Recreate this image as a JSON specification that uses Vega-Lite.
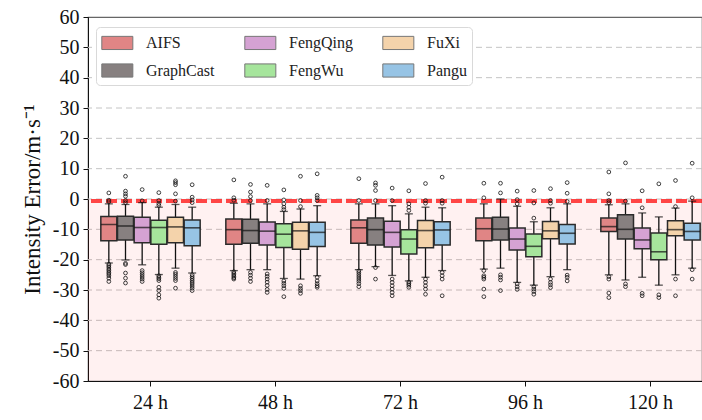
{
  "$schema": "https://vega.github.io/schema/vega-lite/v6.json",
  "autosize": {"type": "none"},
  "padding": {"left": 88, "top": 17, "right": 0, "bottom": 39},
  "width": 614,
  "height": 364,
  "background": "white",
  "config": {
    "font": "Liberation Serif",
    "view": {"stroke": "#666", "strokeWidth": 1.2},
    "axis": {"labelFont": "Liberation Serif", "titleFont": "Liberation Serif", "labelColor": "#111", "titleColor": "#111", "domainColor": "#111", "tickColor": "#111", "titleFontWeight": "normal"},
    "axisY": {"labelOverlap": false, "grid": false, "tickSize": 5, "labelFontSize": 20, "labelPadding": 4, "titleFontSize": 23, "titlePadding": 8},
    "legend": {"labelFont": "Liberation Serif"}
  },
  "resolve": {"scale": {"y": "independent"}},
  "datasets": {
    "grid": [{"g": -50}, {"g": -40}, {"g": -30}, {"g": -20}, {"g": -10}, {"g": 0}, {"g": 10}, {"g": 20}, {"g": 30}, {"g": 40}, {"g": 50}],
    "boxes": [
      {"lead":"24 h","model":"AIFS","lo":-21.1,"q1":-13.8,"med":-8.4,"q3":-5.8,"hi":-1.6},
      {"lead":"24 h","model":"GraphCast","lo":-20.1,"q1":-13.5,"med":-8.9,"q3":-5.7,"hi":-1.8},
      {"lead":"24 h","model":"FengQing","lo":-21.7,"q1":-14.4,"med":-9.4,"q3":-6.0,"hi":-1.2},
      {"lead":"24 h","model":"FengWu","lo":-24.9,"q1":-14.9,"med":-9.4,"q3":-7.0,"hi":-2.7},
      {"lead":"24 h","model":"FuXi","lo":-22.8,"q1":-14.4,"med":-9.2,"q3":-6.0,"hi":-1.8},
      {"lead":"24 h","model":"Pangu","lo":-24.4,"q1":-15.4,"med":-9.5,"q3":-6.9,"hi":-2.7},
      {"lead":"48 h","model":"AIFS","lo":-23.6,"q1":-14.9,"med":-10.1,"q3":-6.6,"hi":-1.4},
      {"lead":"48 h","model":"GraphCast","lo":-23.3,"q1":-14.6,"med":-10.4,"q3":-6.7,"hi":-1.6},
      {"lead":"48 h","model":"FengQing","lo":-23.3,"q1":-15.2,"med":-10.6,"q3":-7.6,"hi":-1.6},
      {"lead":"48 h","model":"FengWu","lo":-26.2,"q1":-16.0,"med":-11.6,"q3":-8.2,"hi":-4.1},
      {"lead":"48 h","model":"FuXi","lo":-26.4,"q1":-16.6,"med":-10.5,"q3":-7.7,"hi":-3.3},
      {"lead":"48 h","model":"Pangu","lo":-25.3,"q1":-15.7,"med":-11.0,"q3":-7.7,"hi":-2.2},
      {"lead":"72 h","model":"AIFS","lo":-23.3,"q1":-14.6,"med":-9.5,"q3":-6.9,"hi":-1.6},
      {"lead":"72 h","model":"GraphCast","lo":-22.3,"q1":-15.2,"med":-10.1,"q3":-6.3,"hi":-1.6},
      {"lead":"72 h","model":"FengQing","lo":-25.2,"q1":-15.8,"med":-11.0,"q3":-7.3,"hi":-2.2},
      {"lead":"72 h","model":"FengWu","lo":-27.0,"q1":-18.1,"med":-13.2,"q3":-10.1,"hi":-4.9},
      {"lead":"72 h","model":"FuXi","lo":-25.8,"q1":-16.1,"med":-10.4,"q3":-7.1,"hi":-2.7},
      {"lead":"72 h","model":"Pangu","lo":-23.6,"q1":-15.2,"med":-10.2,"q3":-7.5,"hi":-2.9},
      {"lead":"96 h","model":"AIFS","lo":-23.1,"q1":-13.8,"med":-9.8,"q3":-6.3,"hi":-1.6},
      {"lead":"96 h","model":"GraphCast","lo":-22.8,"q1":-13.5,"med":-9.9,"q3":-6.0,"hi":0.0},
      {"lead":"96 h","model":"FengQing","lo":-27.5,"q1":-16.8,"med":-13.2,"q3":-9.6,"hi":-2.4},
      {"lead":"96 h","model":"FengWu","lo":-28.4,"q1":-19.0,"med":-15.6,"q3":-11.5,"hi":-7.5},
      {"lead":"96 h","model":"FuXi","lo":-25.6,"q1":-13.1,"med":-10.5,"q3":-7.4,"hi":-2.9},
      {"lead":"96 h","model":"Pangu","lo":-23.3,"q1":-14.8,"med":-11.3,"q3":-8.4,"hi":-1.6},
      {"lead":"120 h","model":"AIFS","lo":-25.0,"q1":-10.7,"med":-9.1,"q3":-6.3,"hi":-1.9},
      {"lead":"120 h","model":"GraphCast","lo":-26.7,"q1":-13.2,"med":-10.0,"q3":-5.2,"hi":-1.6},
      {"lead":"120 h","model":"FengQing","lo":-25.8,"q1":-16.4,"med":-13.5,"q3":-9.6,"hi":-4.6},
      {"lead":"120 h","model":"FengWu","lo":-28.4,"q1":-20.0,"med":-17.4,"q3":-11.2,"hi":-5.9},
      {"lead":"120 h","model":"FuXi","lo":-25.0,"q1":-12.1,"med":-10.1,"q3":-7.2,"hi":-3.0},
      {"lead":"120 h","model":"Pangu","lo":-22.8,"q1":-13.5,"med":-10.7,"q3":-8.0,"hi":-0.7}
    ],
    "outliers": [
      {"lead":"24 h","model":"AIFS","v":2.0},{"lead":"24 h","model":"AIFS","v":-0.4},{"lead":"24 h","model":"AIFS","v":-0.9},
      {"lead":"24 h","model":"AIFS","v":-21.5},{"lead":"24 h","model":"AIFS","v":-22.0},{"lead":"24 h","model":"AIFS","v":-22.5},{"lead":"24 h","model":"AIFS","v":-23.1},{"lead":"24 h","model":"AIFS","v":-23.6},{"lead":"24 h","model":"AIFS","v":-24.2},{"lead":"24 h","model":"AIFS","v":-24.7},{"lead":"24 h","model":"AIFS","v":-25.3},{"lead":"24 h","model":"AIFS","v":-26.1},{"lead":"24 h","model":"AIFS","v":-27.2},
      {"lead":"24 h","model":"GraphCast","v":7.5},{"lead":"24 h","model":"GraphCast","v":2.6},{"lead":"24 h","model":"GraphCast","v":1.7},{"lead":"24 h","model":"GraphCast","v":0.9},{"lead":"24 h","model":"GraphCast","v":-0.5},{"lead":"24 h","model":"GraphCast","v":-1.2},
      {"lead":"24 h","model":"GraphCast","v":-21.2},{"lead":"24 h","model":"GraphCast","v":-21.6},{"lead":"24 h","model":"GraphCast","v":-24.4},{"lead":"24 h","model":"GraphCast","v":-26.1},{"lead":"24 h","model":"GraphCast","v":-27.7},
      {"lead":"24 h","model":"FengQing","v":3.1},{"lead":"24 h","model":"FengQing","v":-0.6},
      {"lead":"24 h","model":"FengQing","v":-23.6},{"lead":"24 h","model":"FengQing","v":-24.3},{"lead":"24 h","model":"FengQing","v":-25.0},{"lead":"24 h","model":"FengQing","v":-25.7},{"lead":"24 h","model":"FengQing","v":-26.4},{"lead":"24 h","model":"FengQing","v":-27.2},
      {"lead":"24 h","model":"FengWu","v":2.1},{"lead":"24 h","model":"FengWu","v":-0.5},{"lead":"24 h","model":"FengWu","v":-1.5},{"lead":"24 h","model":"FengWu","v":-2.1},
      {"lead":"24 h","model":"FengWu","v":-25.3},{"lead":"24 h","model":"FengWu","v":-25.8},{"lead":"24 h","model":"FengWu","v":-26.3},{"lead":"24 h","model":"FengWu","v":-26.9},{"lead":"24 h","model":"FengWu","v":-29.1},{"lead":"24 h","model":"FengWu","v":-30.2},{"lead":"24 h","model":"FengWu","v":-31.6},{"lead":"24 h","model":"FengWu","v":-32.7},
      {"lead":"24 h","model":"FuXi","v":6.0},{"lead":"24 h","model":"FuXi","v":5.4},{"lead":"24 h","model":"FuXi","v":4.7},{"lead":"24 h","model":"FuXi","v":1.7},{"lead":"24 h","model":"FuXi","v":-0.7},
      {"lead":"24 h","model":"FuXi","v":-24.2},{"lead":"24 h","model":"FuXi","v":-24.8},{"lead":"24 h","model":"FuXi","v":-25.5},{"lead":"24 h","model":"FuXi","v":-26.2},{"lead":"24 h","model":"FuXi","v":-26.9},{"lead":"24 h","model":"FuXi","v":-29.4},
      {"lead":"24 h","model":"Pangu","v":4.7},{"lead":"24 h","model":"Pangu","v":0.6},{"lead":"24 h","model":"Pangu","v":-0.3},{"lead":"24 h","model":"Pangu","v":-1.2},
      {"lead":"24 h","model":"Pangu","v":-25.0},{"lead":"24 h","model":"Pangu","v":-25.6},{"lead":"24 h","model":"Pangu","v":-26.2},{"lead":"24 h","model":"Pangu","v":-26.8},{"lead":"24 h","model":"Pangu","v":-27.4},{"lead":"24 h","model":"Pangu","v":-28.0},{"lead":"24 h","model":"Pangu","v":-28.7},{"lead":"24 h","model":"Pangu","v":-29.4},{"lead":"24 h","model":"Pangu","v":-30.2},
      {"lead":"48 h","model":"AIFS","v":6.3},{"lead":"48 h","model":"AIFS","v":0.4},{"lead":"48 h","model":"AIFS","v":-0.4},
      {"lead":"48 h","model":"AIFS","v":-24.0},{"lead":"48 h","model":"AIFS","v":-24.5},{"lead":"48 h","model":"AIFS","v":-25.0},{"lead":"48 h","model":"AIFS","v":-25.5},{"lead":"48 h","model":"AIFS","v":-26.0},{"lead":"48 h","model":"AIFS","v":-26.4},
      {"lead":"48 h","model":"GraphCast","v":4.8},{"lead":"48 h","model":"GraphCast","v":2.3},{"lead":"48 h","model":"GraphCast","v":0.8},{"lead":"48 h","model":"GraphCast","v":-0.5},
      {"lead":"48 h","model":"GraphCast","v":-24.2},{"lead":"48 h","model":"GraphCast","v":-25.1},{"lead":"48 h","model":"GraphCast","v":-26.1},{"lead":"48 h","model":"GraphCast","v":-27.2},
      {"lead":"48 h","model":"FengQing","v":4.5},{"lead":"48 h","model":"FengQing","v":-0.5},
      {"lead":"48 h","model":"FengQing","v":-24.7},{"lead":"48 h","model":"FengQing","v":-25.5},{"lead":"48 h","model":"FengQing","v":-26.4},{"lead":"48 h","model":"FengQing","v":-27.4},{"lead":"48 h","model":"FengQing","v":-28.5},{"lead":"48 h","model":"FengQing","v":-29.8},{"lead":"48 h","model":"FengQing","v":-30.8},
      {"lead":"48 h","model":"FengWu","v":3.0},{"lead":"48 h","model":"FengWu","v":-0.3},{"lead":"48 h","model":"FengWu","v":-1.6},{"lead":"48 h","model":"FengWu","v":-2.7},{"lead":"48 h","model":"FengWu","v":-3.5},
      {"lead":"48 h","model":"FengWu","v":-27.0},{"lead":"48 h","model":"FengWu","v":-27.8},{"lead":"48 h","model":"FengWu","v":-28.6},{"lead":"48 h","model":"FengWu","v":-29.5},{"lead":"48 h","model":"FengWu","v":-32.2},
      {"lead":"48 h","model":"FuXi","v":7.5},{"lead":"48 h","model":"FuXi","v":-0.5},{"lead":"48 h","model":"FuXi","v":-2.5},
      {"lead":"48 h","model":"FuXi","v":-28.6},{"lead":"48 h","model":"FuXi","v":-29.5},{"lead":"48 h","model":"FuXi","v":-30.2},{"lead":"48 h","model":"FuXi","v":-31.1},
      {"lead":"48 h","model":"Pangu","v":8.3},{"lead":"48 h","model":"Pangu","v":1.2},{"lead":"48 h","model":"Pangu","v":0.4},{"lead":"48 h","model":"Pangu","v":-0.5},
      {"lead":"48 h","model":"Pangu","v":-25.8},{"lead":"48 h","model":"Pangu","v":-27.0},{"lead":"48 h","model":"Pangu","v":-27.9},{"lead":"48 h","model":"Pangu","v":-28.6},{"lead":"48 h","model":"Pangu","v":-29.1},
      {"lead":"72 h","model":"AIFS","v":6.7},{"lead":"72 h","model":"AIFS","v":-0.5},
      {"lead":"72 h","model":"AIFS","v":-23.7},{"lead":"72 h","model":"AIFS","v":-24.3},{"lead":"72 h","model":"AIFS","v":-25.0},{"lead":"72 h","model":"AIFS","v":-25.7},{"lead":"72 h","model":"AIFS","v":-26.4},{"lead":"72 h","model":"AIFS","v":-27.1},{"lead":"72 h","model":"AIFS","v":-27.9},{"lead":"72 h","model":"AIFS","v":-28.9},
      {"lead":"72 h","model":"GraphCast","v":5.3},{"lead":"72 h","model":"GraphCast","v":4.5},{"lead":"72 h","model":"GraphCast","v":2.8},{"lead":"72 h","model":"GraphCast","v":-0.5},
      {"lead":"72 h","model":"GraphCast","v":-22.6},{"lead":"72 h","model":"GraphCast","v":-26.4},
      {"lead":"72 h","model":"FengQing","v":3.6},{"lead":"72 h","model":"FengQing","v":-0.5},
      {"lead":"72 h","model":"FengQing","v":-26.4},{"lead":"72 h","model":"FengQing","v":-27.5},{"lead":"72 h","model":"FengQing","v":-28.6},{"lead":"72 h","model":"FengQing","v":-29.7},{"lead":"72 h","model":"FengQing","v":-30.8},{"lead":"72 h","model":"FengQing","v":-31.9},
      {"lead":"72 h","model":"FengWu","v":2.7},{"lead":"72 h","model":"FengWu","v":-1.6},{"lead":"72 h","model":"FengWu","v":-2.7},{"lead":"72 h","model":"FengWu","v":-3.8},
      {"lead":"72 h","model":"FengWu","v":-27.4},{"lead":"72 h","model":"FengWu","v":-27.9},{"lead":"72 h","model":"FengWu","v":-28.4},{"lead":"72 h","model":"FengWu","v":-29.1},
      {"lead":"72 h","model":"FuXi","v":5.1},{"lead":"72 h","model":"FuXi","v":-0.5},{"lead":"72 h","model":"FuXi","v":-1.4},
      {"lead":"72 h","model":"FuXi","v":-26.4},{"lead":"72 h","model":"FuXi","v":-27.5},{"lead":"72 h","model":"FuXi","v":-28.6},{"lead":"72 h","model":"FuXi","v":-29.7},{"lead":"72 h","model":"FuXi","v":-31.4},
      {"lead":"72 h","model":"Pangu","v":7.2},{"lead":"72 h","model":"Pangu","v":-0.5},{"lead":"72 h","model":"Pangu","v":-1.4},
      {"lead":"72 h","model":"Pangu","v":-24.2},{"lead":"72 h","model":"Pangu","v":-25.3},{"lead":"72 h","model":"Pangu","v":-26.4},{"lead":"72 h","model":"Pangu","v":-31.9},
      {"lead":"96 h","model":"AIFS","v":5.2},{"lead":"96 h","model":"AIFS","v":0.4},
      {"lead":"96 h","model":"AIFS","v":-23.6},{"lead":"96 h","model":"AIFS","v":-25.3},{"lead":"96 h","model":"AIFS","v":-25.8},{"lead":"96 h","model":"AIFS","v":-26.4},{"lead":"96 h","model":"AIFS","v":-29.7},{"lead":"96 h","model":"AIFS","v":-32.2},
      {"lead":"96 h","model":"GraphCast","v":5.2},{"lead":"96 h","model":"GraphCast","v":2.0},
      {"lead":"96 h","model":"GraphCast","v":-25.0},{"lead":"96 h","model":"GraphCast","v":-25.8},{"lead":"96 h","model":"GraphCast","v":-26.7},{"lead":"96 h","model":"GraphCast","v":-30.2},
      {"lead":"96 h","model":"FengQing","v":2.6},{"lead":"96 h","model":"FengQing","v":-0.2},{"lead":"96 h","model":"FengQing","v":-1.6},
      {"lead":"96 h","model":"FengQing","v":-28.0},{"lead":"96 h","model":"FengQing","v":-28.9},{"lead":"96 h","model":"FengQing","v":-29.8},
      {"lead":"96 h","model":"FengWu","v":2.8},{"lead":"96 h","model":"FengWu","v":-1.3},{"lead":"96 h","model":"FengWu","v":-6.3},
      {"lead":"96 h","model":"FengWu","v":-28.9},{"lead":"96 h","model":"FengWu","v":-29.7},{"lead":"96 h","model":"FengWu","v":-30.5},{"lead":"96 h","model":"FengWu","v":-31.4},
      {"lead":"96 h","model":"FuXi","v":3.4},{"lead":"96 h","model":"FuXi","v":-0.5},{"lead":"96 h","model":"FuXi","v":-1.4},
      {"lead":"96 h","model":"FuXi","v":-26.4},{"lead":"96 h","model":"FuXi","v":-27.5},{"lead":"96 h","model":"FuXi","v":-28.3},{"lead":"96 h","model":"FuXi","v":-29.2},
      {"lead":"96 h","model":"Pangu","v":5.4},{"lead":"96 h","model":"Pangu","v":1.9},{"lead":"96 h","model":"Pangu","v":-0.8},
      {"lead":"96 h","model":"Pangu","v":-25.1},{"lead":"96 h","model":"Pangu","v":-25.8},{"lead":"96 h","model":"Pangu","v":-27.0},
      {"lead":"120 h","model":"AIFS","v":8.9},{"lead":"120 h","model":"AIFS","v":1.7},{"lead":"120 h","model":"AIFS","v":-0.5},{"lead":"120 h","model":"AIFS","v":-1.2},
      {"lead":"120 h","model":"AIFS","v":-25.6},{"lead":"120 h","model":"AIFS","v":-26.4},{"lead":"120 h","model":"AIFS","v":-31.0},{"lead":"120 h","model":"AIFS","v":-32.5},
      {"lead":"120 h","model":"GraphCast","v":11.9},{"lead":"120 h","model":"GraphCast","v":-0.7},
      {"lead":"120 h","model":"GraphCast","v":-28.0},{"lead":"120 h","model":"GraphCast","v":-28.9},
      {"lead":"120 h","model":"FengQing","v":2.7},{"lead":"120 h","model":"FengQing","v":-2.9},
      {"lead":"120 h","model":"FengQing","v":-31.1},{"lead":"120 h","model":"FengQing","v":-31.9},
      {"lead":"120 h","model":"FengWu","v":5.0},
      {"lead":"120 h","model":"FengWu","v":-31.6},{"lead":"120 h","model":"FengWu","v":-32.5},
      {"lead":"120 h","model":"FuXi","v":6.1},{"lead":"120 h","model":"FuXi","v":-2.5},
      {"lead":"120 h","model":"FuXi","v":-26.4},{"lead":"120 h","model":"FuXi","v":-31.9},
      {"lead":"120 h","model":"Pangu","v":11.8},{"lead":"120 h","model":"Pangu","v":0.4},
      {"lead":"120 h","model":"Pangu","v":-23.3},{"lead":"120 h","model":"Pangu","v":-26.4}
    ]
  },
  "layer": [
    {
      "data": {"name": "grid"},
      "mark": {"type": "rule", "stroke": "#c4c4c4", "strokeWidth": 1, "strokeDash": [6, 4]},
      "encoding": {"y": {"field": "g", "type": "ordinal",
        "scale": {"type": "point", "domain": [60, 50, 40, 30, 20, 10, 0, -10, -20, -30, -40, -50, -60], "padding": 0},
        "axis": {"title": "Intensity Error/m·s⁻¹", "labelOverlap": false, "tickSize": 5, "grid": false}}}
    },
    {
      "encoding": {
        "y": {"type": "quantitative", "scale": {"domain": [-60, 60], "nice": false, "zero": false}, "axis": null}
      },
      "layer": [
        {
          "data": {"values": [{}]},
          "mark": {"type": "rect", "fill": "#ff0000", "fillOpacity": 0.055},
          "encoding": {"y": {"datum": 0}, "y2": {"datum": -60}}
        },
        {
          "data": {"values": [{}]},
          "mark": {"type": "rule", "stroke": "#ff1a1a", "strokeWidth": 4, "strokeDash": [11, 4], "opacity": 0.8},
          "encoding": {"y": {"datum": -0.7}}
        },
        {
          "data": {"name": "boxes"},
          "encoding": {
            "x": {"field": "lead", "type": "nominal", "sort": ["24 h", "48 h", "72 h", "96 h", "120 h"],
                  "scale": {"range": [0, 625], "paddingInner": 0, "paddingOuter": 0},
                  "axis": {"title": null, "labelAngle": 0, "labelFontSize": 20, "tickSize": 5, "labelPadding": 6, "grid": false}},
            "xOffset": {"field": "model", "type": "nominal", "sort": ["AIFS", "GraphCast", "FengQing", "FengWu", "FuXi", "Pangu"],
                        "scale": {"paddingInner": 0.04, "paddingOuter": 0.77}}
          },
          "layer": [
            {"mark": {"type": "rule", "stroke": "#111", "strokeWidth": 1.3},
             "encoding": {"y": {"field": "lo"}, "y2": {"field": "hi"}}},
            {"mark": {"type": "bar", "stroke": "#2b2b2b", "strokeWidth": 1.5, "fillOpacity": 1},
             "encoding": {"y": {"field": "q1"}, "y2": {"field": "q3"},
               "color": {"field": "model", "type": "nominal",
                 "scale": {"domain": ["AIFS", "FengQing", "FuXi", "GraphCast", "FengWu", "Pangu"],
                           "range": ["#e08585", "#d5a2d3", "#f4d3ab", "#878080", "#a6e59c", "#97c4e5"]},
                 "legend": {"title": null, "orient": "none", "legendX": 8, "legendY": 10, "columns": 3, "direction": "horizontal",
                   "symbolType": "M-1,-0.68H2.2V0.68H-1Z", "symbolSize": 376, "symbolStrokeColor": "#777", "symbolStrokeWidth": 1, "symbolOpacity": 1,
                   "labelFont": "Liberation Serif", "labelFontSize": 16, "labelColor": "#222", "labelOffset": 24,
                   "columnPadding": 27, "rowPadding": 8, "padding": 5,
                   "fillColor": "white", "strokeColor": "#d9d9d9", "cornerRadius": 4}}}},
            {"mark": {"type": "tick", "color": "#111", "thickness": 1.6, "size": 16},
             "encoding": {"y": {"field": "med"}}},
            {"mark": {"type": "tick", "color": "#111", "thickness": 1.3, "size": 8},
             "encoding": {"y": {"field": "lo"}}},
            {"mark": {"type": "tick", "color": "#111", "thickness": 1.3, "size": 8},
             "encoding": {"y": {"field": "hi"}}}
          ]
        },
        {
          "data": {"name": "outliers"},
          "mark": {"type": "point", "shape": "circle", "filled": false, "stroke": "#111", "strokeWidth": 0.8, "size": 14, "opacity": 1},
          "encoding": {
            "x": {"field": "lead", "type": "nominal", "sort": ["24 h", "48 h", "72 h", "96 h", "120 h"]},
            "xOffset": {"field": "model", "type": "nominal", "sort": ["AIFS", "GraphCast", "FengQing", "FengWu", "FuXi", "Pangu"]},
            "y": {"field": "v"}
          }
        }
      ]
    }
  ]
}
